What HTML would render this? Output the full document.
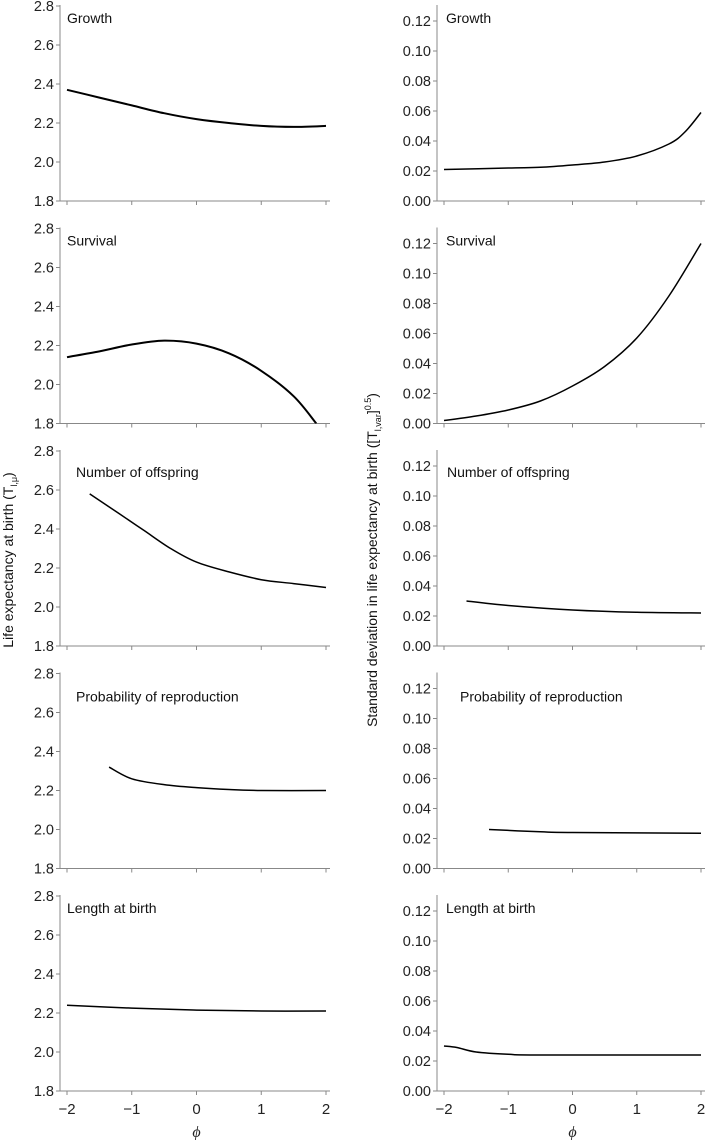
<!DOCTYPE html>
<html><head><meta charset="utf-8"><style>
body{margin:0;background:#fff;}
svg{display:block;font-family:"Liberation Sans",Arial,sans-serif;}
</style></head><body>
<svg id="c" width="709" height="1140" viewBox="0 0 709 1140" xmlns="http://www.w3.org/2000/svg"></svg>
<script>
const titles = ["Growth","Survival","Number of  offspring","Probability of reproduction","Length at birth"];
const titleDy = [12,12,21,23,12];
const titleDxL = [7,7,16,16,7];
const titleDxR = [9,9,10,23,9];
const xTicks = [-2,-1,0,1,2];
const xTickLabels = ["\u22122","\u22121","0","1","2"];
const leftTicks = [1.8,2.0,2.2,2.4,2.6,2.8];
const leftTickLabels = ["1.8","2.0","2.2","2.4","2.6","2.8"];
const rightTicks = [0,0.02,0.04,0.06,0.08,0.10,0.12];
const rightTickLabels = ["0.00","0.02","0.04","0.06","0.08","0.10","0.12"];
// left series (life expectancy)
const leftX = [
 [-2,-1.5,-1,-0.5,0,0.5,1,1.5,2],
 [-2,-1.5,-1,-0.5,0,0.5,1,1.5,1.85],
 [-1.65,-1.2,-0.8,-0.4,0,0.5,1,1.5,2],
 [-1.35,-1,-0.5,0,0.5,1,2],
 [-2,-1,0,1,2]];
const leftY = [
 [2.37,2.33,2.29,2.25,2.22,2.20,2.185,2.18,2.185],
 [2.14,2.17,2.205,2.225,2.21,2.16,2.07,1.94,1.80],
 [2.58,2.48,2.39,2.30,2.23,2.18,2.14,2.12,2.10],
 [2.32,2.26,2.23,2.215,2.205,2.2,2.2],
 [2.24,2.225,2.215,2.21,2.21]];
// right series (standard deviation)
const rightX = [
 [-2,-1,-0.5,0,0.5,1,1.5,1.75,2],
 [-2,-1.5,-1,-0.5,0,0.5,1,1.5,2],
 [-1.65,-1,0,1,2],
 [-1.3,-0.5,0,2],
 [-2,-1.8,-1.5,-1,-0.5,2]];
const rightY = [
 [0.021,0.022,0.0225,0.024,0.026,0.030,0.038,0.046,0.059],
 [0.002,0.005,0.009,0.015,0.025,0.038,0.057,0.085,0.12],
 [0.030,0.027,0.024,0.0225,0.022],
 [0.026,0.0245,0.024,0.0235],
 [0.030,0.029,0.026,0.0245,0.024,0.024]];

const svg=document.getElementById('c');const NS="http://www.w3.org/2000/svg";
function mk(t,a,p){const e=document.createElementNS(NS,t);for(const k in a)e.setAttribute(k,a[k]);(p||svg).appendChild(e);return e;}
const PH=195, TOP0=6, STEP=222.5;
function smooth(pts){let d="M"+pts[0][0].toFixed(1)+","+pts[0][1].toFixed(1);
 for(let i=0;i<pts.length-1;i++){const p0=pts[Math.max(i-1,0)],p1=pts[i],p2=pts[i+1],p3=pts[Math.min(i+2,pts.length-1)];
  const c1=[p1[0]+(p2[0]-p0[0])/6,p1[1]+(p2[1]-p0[1])/6],c2=[p2[0]-(p3[0]-p1[0])/6,p2[1]-(p3[1]-p1[1])/6];
  d+=" C"+c1[0].toFixed(1)+","+c1[1].toFixed(1)+" "+c2[0].toFixed(1)+","+c2[1].toFixed(1)+" "+p2[0].toFixed(1)+","+p2[1].toFixed(1);}
 return d;}
function panel(side,i){
 const top=TOP0+i*STEP, bot=top+PH;
 const axX = side==='L'?60:437, x0=side==='L'?67:444, x1=side==='L'?326:701;
 const ymin = side==='L'?1.8:0, ymax = side==='L'?2.8:0.13;
 const sx=v=>x0+(v+2)/4*(x1-x0);
 const sy=v=>bot-(v-ymin)/(ymax-ymin)*PH;
 const g=mk('g',{});
 
 
 const ax=mk('line',{x1:axX,y1:top-1,x2:axX,y2:bot,stroke:'#888','stroke-width':1},g);
 
 const xa=mk('line',{x1:axX,y1:bot,x2:x1+4,y2:bot,stroke:'#888','stroke-width':1},g);
 
 const ticks= side==='L'?leftTicks:rightTicks, labs= side==='L'?leftTickLabels:rightTickLabels;
 ticks.forEach((t,k)=>{const y=sy(t);
  mk('line',{x1:axX-4,y1:y,x2:axX,y2:y,stroke:'#888'},g);
  const tx=mk('text',{x:axX-6,y:y+5,'text-anchor':'end','font-size':14.5,fill:'#222'},g);tx.textContent=labs[k];
  });
 xTicks.forEach((t,k)=>{const x=sx(t);mk('line',{x1:x,y1:bot,x2:x,y2:bot+4,stroke:'#888'},g);
  if(i===4){const tx=mk('text',{x:x,y:bot+23,'text-anchor':'middle','font-size':15,fill:'#222'},g);tx.textContent=xTickLabels[k];
  }});
 const tt=mk('text',{x:axX+(side==='L'?titleDxL[i]:titleDxR[i]),y:top+titleDy[i]+5,'font-size':14,fill:'#111'},g);
 tt.textContent=titles[i];
 const xs= side==='L'?leftX[i]:rightX[i], ys= side==='L'?leftY[i]:rightY[i];
 const pts=xs.map((x,k)=>[sx(x),sy(ys[k])]);
 const cid='clip'+side+i;
 const cp=mk('clipPath',{id:cid},g);mk('rect',{x:axX,y:top-2,width:x1-axX+5,height:PH+2},cp);
 const p=mk('path',{d:smooth(pts),fill:'none',stroke:'#000','stroke-width':(i<2&&side==='L')?2:1.5,'clip-path':'url(#'+cid+')'},g);
 
 if(i===4){const ph=mk('text',{x:(x0+x1)/2,y:1137,'text-anchor':'middle','font-size':16,'font-style':'italic','font-family':'"Liberation Serif",serif',fill:'#222'},g);
  ph.textContent='\u03d5';}
}
for(let i=0;i<5;i++){panel('L',i);panel('R',i);}
const yl=mk('text',{transform:'translate(13,560) rotate(-90)','text-anchor':'middle','font-size':14,fill:'#111'});
yl.innerHTML='Life expectancy at birth (T<tspan font-size="9" dy="4">l,\u03bc</tspan><tspan dy="-4">)</tspan>';

const yr=mk('text',{transform:'translate(377,560) rotate(-90)','text-anchor':'middle','font-size':14,fill:'#111'});
yr.innerHTML='Standard deviation in life expectancy at birth ([T<tspan font-size="9" dy="4">l,var</tspan><tspan dy="-4">]</tspan><tspan font-size="9" dy="-6">0.5</tspan><tspan dy="6">)</tspan>';

</script>
</body></html>
